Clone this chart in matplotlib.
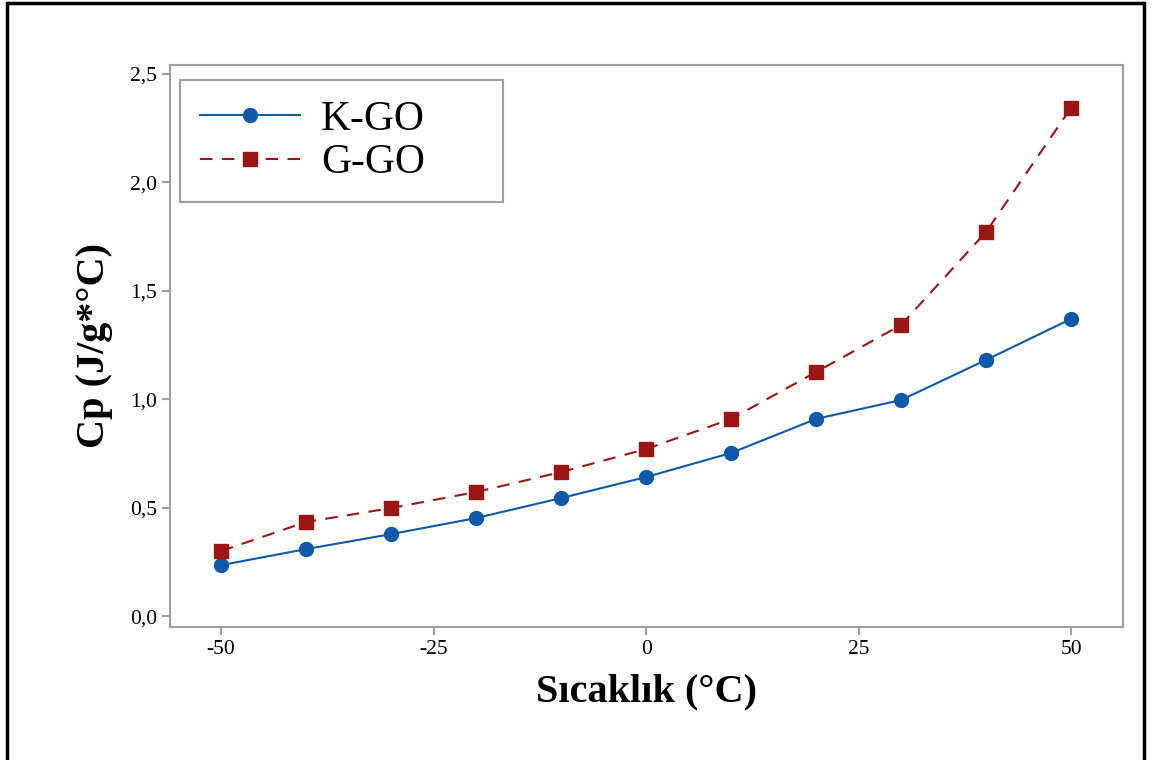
import matplotlib
matplotlib.use('Agg')
import matplotlib.pyplot as plt
from matplotlib.patches import Rectangle
from matplotlib.ticker import FuncFormatter

temp = [-50, -40, -30, -20, -10, 0, 10, 20, 30, 40, 50]
k_go = [0.235, 0.309, 0.378, 0.452, 0.544, 0.641, 0.752, 0.909, 0.996, 1.181, 1.370]
g_go = [0.300, 0.434, 0.498, 0.572, 0.664, 0.770, 0.909, 1.125, 1.342, 1.771, 2.343]

plt.rcParams['font.family'] = ['Liberation Serif', 'DejaVu Serif']
plt.rcParams['axes.unicode_minus'] = False

fig = plt.figure(figsize=(11.56, 7.6), dpi=100)
ax = fig.add_axes([170/1156, 1 - 627/760, (1123-170)/1156, (627-65)/760])

# outer frame (bottom edge is cut off in the original)
fig.patches.append(Rectangle((7/1156, -0.1), (1144-7)/1156, 1.1 - 3/760,
                             transform=fig.transFigure, fill=False,
                             edgecolor='black', linewidth=2.5))

ax.plot(temp, k_go, color='#0f5aa8', linewidth=1.5, marker='o', markersize=10,
        label='K-GO')
ax.plot(temp, g_go, color='#9b1515', linewidth=1.5, linestyle=(0, (6, 4.5)),
        marker='s', markersize=9.5, label='G-GO')

ax.set_xlim(-56, 56.1)
ax.set_ylim(-0.05, 2.54)
ax.set_xticks([-50, -25, 0, 25, 50])
ax.set_yticks([0, 0.5, 1.0, 1.5, 2.0, 2.5])
ax.yaxis.set_major_formatter(FuncFormatter(lambda v, p: f'{v:.1f}'.replace('.', ',')))

for s in ax.spines.values():
    s.set_color('#a0a0a0')
    s.set_linewidth(1.5)
ax.tick_params(colors='#a0a0a0', labelcolor='black', labelsize=15.5, length=6, width=1.5)

ax.set_xlabel('Sıcaklık (°C)', fontsize=29, fontweight='bold', labelpad=10)
ax.set_ylabel('Cp (J/g*°C)', fontsize=29, fontweight='bold', labelpad=12)

leg = ax.legend(loc='upper left', fontsize=30, fancybox=False, framealpha=1,
                edgecolor='#a0a0a0', handlelength=2.4, handletextpad=0.5,
                borderpad=0.48, labelspacing=0.12, borderaxespad=0,
                mode='expand', bbox_to_anchor=(0.0105, 0.5, 0.339, 0.473))
leg.get_frame().set_linewidth(1.5)

fig.savefig('out.png', dpi=100)
